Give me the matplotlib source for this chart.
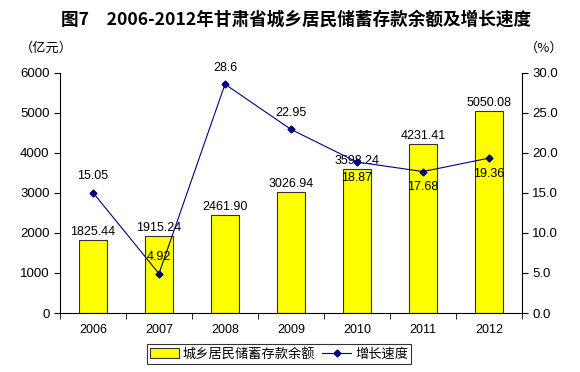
import matplotlib
matplotlib.use('Agg')
import matplotlib.pyplot as plt
import numpy as np
from matplotlib.patches import Patch
from matplotlib.lines import Line2D

plt.rcParams['font.family'] = ['Noto Sans CJK SC', 'DejaVu Sans']

years = ['2006', '2007', '2008', '2009', '2010', '2011', '2012']
deposits = [1825.44, 1915.24, 2461.90, 3026.94, 3598.24, 4231.41, 5050.08]
growth = [15.05, 4.92, 28.6, 22.95, 18.87, 17.68, 19.36]
growth_labels = ['15.05', '4.92', '28.6', '22.95', '18.87', '17.68', '19.36']
label_below = [False, False, False, False, True, True, True]

num_font = 'Liberation Sans'

fig = plt.figure(figsize=(5.8, 3.72), dpi=100)
ax = fig.add_axes([0.1034, 0.1586, 0.7966, 0.6452])
ax2 = ax.twinx()

x = np.arange(len(years))
ax.bar(x, deposits, width=0.42, color='#FFFF00', edgecolor='#333333', linewidth=0.8, zorder=2)
for xi, v in zip(x, deposits):
    ax.text(xi, v + 50, '%.2f' % v, ha='center', va='bottom', fontsize=9,
            family=num_font)

ax2.plot(x, growth, color='#000080', linewidth=0.8, marker='D', markersize=3.5, zorder=3)
for xi, v, lab, below in zip(x, growth, growth_labels, label_below):
    if below:
        ax2.text(xi, v - 1.2, lab, ha='center', va='top', fontsize=9, family=num_font)
    else:
        ax2.text(xi, v + 1.3, lab, ha='center', va='bottom', fontsize=9, family=num_font)

ax.set_xlim(-0.5, len(years) - 0.5)
ax.set_ylim(0, 6000)
ax2.set_ylim(0, 30)
ax.set_yticks(np.arange(0, 6001, 1000))
ax2.set_yticks(np.arange(0, 30.1, 5))
ax2.set_yticklabels(['%.1f' % t for t in np.arange(0, 30.1, 5)])

ax.set_xticks(x)
ax.set_xticklabels(years)
ax.set_xticks(np.arange(-0.5, len(years), 1), minor=True)
ax.tick_params(axis='x', which='major', length=0, pad=8, labelsize=9)
ax.tick_params(axis='x', which='minor', length=4, direction='out')
ax.tick_params(axis='y', length=4, direction='out', labelsize=9.5)
ax2.tick_params(axis='y', length=4, direction='out', labelsize=9.5)
for lbl in ax.get_xticklabels() + ax.get_yticklabels() + ax2.get_yticklabels():
    lbl.set_family(num_font)

for a in (ax, ax2):
    a.spines['top'].set_visible(False)
ax.spines['right'].set_visible(False)
ax2.spines['bottom'].set_visible(False)
ax2.spines['left'].set_visible(False)

fig.text(0.51, 0.946, '图7　2006-2012年甘肃省城乡居民储蓄存款余额及增长速度',
         ha='center', va='center', fontsize=12.7, fontweight='bold')
fig.text(0.035, 0.87, '（亿元）', ha='left', va='center', fontsize=9.5)
fig.text(0.905, 0.87, '（%）', ha='left', va='center', fontsize=9.5)

handles = [Patch(facecolor='#FFFF00', edgecolor='#333333', linewidth=0.8),
           Line2D([0], [0], color='#000080', linewidth=0.8, marker='D', markersize=3.5)]
leg = fig.legend(handles, ['城乡居民储蓄存款余额', '增长速度'], loc='center',
                 bbox_to_anchor=(0.481, 0.048), ncol=2, fontsize=9.5, frameon=True,
                 fancybox=False, edgecolor='black', handlelength=2.2, handletextpad=0.3,
                 columnspacing=0.5, borderpad=0.25)
leg.get_frame().set_linewidth(0.8)

fig.savefig('out.png', dpi=100)
